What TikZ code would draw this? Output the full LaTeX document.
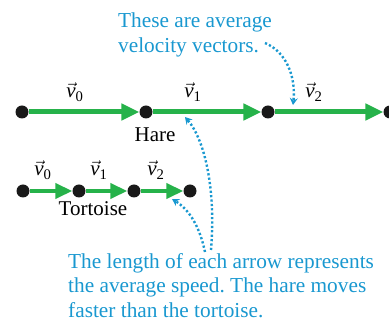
\documentclass[tikz,border=0pt]{standalone}
\usepackage{fontspec}
\setmainfont{Liberation Serif}
\usetikzlibrary{arrows.meta}
\definecolor{gr}{RGB}{38,178,74}
\definecolor{bl}{RGB}{25,152,208}
\newcommand{\vlab}[1]{$\vec{\mbox{\itshape v}}$\textsubscript{#1}}
\frenchspacing
\tikzset{
  dot/.style={circle,fill=black!90,minimum size=13pt,inner sep=0pt},
  harrow/.style={draw=gr,line width=5pt,-{Triangle[length=18pt,width=16pt]}},
  tarrow/.style={draw=gr,line width=4pt,-{Triangle[length=17pt,width=15pt]}},
  lab/.style={anchor=base,inner sep=0pt,font=\fontsize{21}{24.5}\selectfont},
  note/.style={anchor=north west,inner sep=0pt,align=left,text=bl,font=\fontsize{21.3}{24.5}\selectfont},
  pointer/.style={draw=bl,line width=2.4pt,dash pattern=on 2.2pt off 2.2pt,-{Stealth[length=7pt,width=8pt,inset=2.5pt]}}
}
\begin{document}
\begin{tikzpicture}[x=1pt,y=-1pt]
\useasboundingbox (0,0) rectangle (389,320);
% hare
\node[dot] (h0) at (22,112) {};
\node[dot] (h1) at (146,112) {};
\node[dot] (h2) at (268,112) {};
\node[dot] (h3) at (390,112) {};
\draw[harrow] (h0) -- (h1);
\draw[harrow] (h1) -- (h2);
\draw[harrow] (h2) -- (h3);
\node[lab] (hv0) at (75,98) {\vlab{0}};
\node[lab] (hv1) at (193,98) {\vlab{1}};
\node[lab] (hv2) at (314,98) {\vlab{2}};
\node[lab] (hare) at (155,142) {Hare};
% tortoise
\node[dot] (t0) at (23,191) {};
\node[dot] (t1) at (79,191) {};
\node[dot] (t2) at (134,191) {};
\node[dot] (t3) at (190,191) {};
\draw[tarrow] (t0) -- (t1);
\draw[tarrow] (t1) -- (t2);
\draw[tarrow] (t2) -- (t3);
\node[lab] (tv0) at (43,176) {\vlab{0}};
\node[lab] (tv1) at (99,176) {\vlab{1}};
\node[lab] (tv2) at (156,176) {\vlab{2}};
\node[lab] (tort) at (93,216) {Tortoise};
% notes
\node[note] (n1) at (118,13) {These are average\\velocity vectors.};
\node[note] (n2) at (68,253) {The length of each arrow represents\\the average speed. The hare moves\\faster than the tortoise.};
\coordinate (p1s) at (265,43);
\coordinate (p1e) at (293,105);
\coordinate (p2s) at (205,252);
\coordinate (p2e) at (172,199);
\coordinate (p3s) at (211,250);
\coordinate (p3e) at (185,117);
\draw[pointer] (p1s) .. controls (287,52) and (296,78) .. (p1e);
\draw[pointer] (p2s) .. controls (200,228) and (190,210) .. (p2e);
\draw[pointer] (p3s) .. controls (216,190) and (205,140) .. (p3e);
\end{tikzpicture}
\end{document}
